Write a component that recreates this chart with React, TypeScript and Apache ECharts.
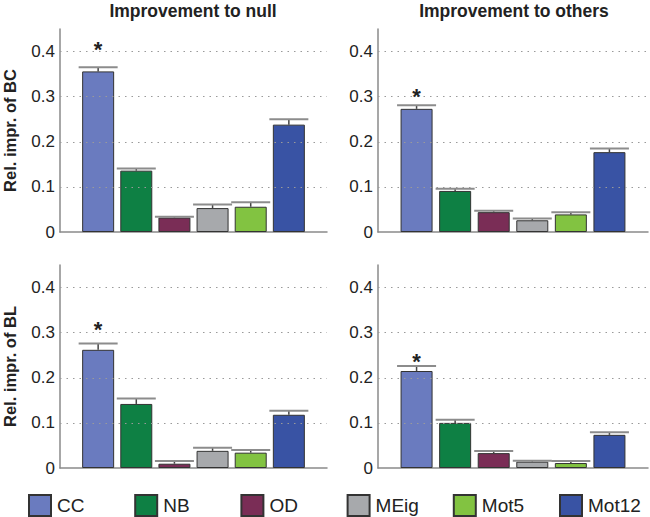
import React, { useEffect, useRef } from "react";
import * as echarts from "echarts";

const categories = ["CC", "NB", "OD", "MEig", "Mot5", "Mot12"];
const colors = ["#6a7bbf", "#0e8044", "#7a2d56", "#a7a9ac", "#82c341", "#3953a4"];

const bcNullMean = [0.356, 0.136, 0.032, 0.053, 0.056, 0.238];
const bcNullUpper = [0.365, 0.141, 0.034, 0.061, 0.066, 0.25];
const bcOthersMean = [0.273, 0.091, 0.044, 0.026, 0.039, 0.177];
const bcOthersUpper = [0.281, 0.096, 0.047, 0.03, 0.044, 0.185];
const blNullMean = [0.262, 0.142, 0.0095, 0.038, 0.034, 0.118];
const blNullUpper = [0.276, 0.154, 0.0155, 0.045, 0.04, 0.127];
const blOthersMean = [0.215, 0.1, 0.033, 0.014, 0.011, 0.0735];
const blOthersUpper = [0.226, 0.107, 0.0375, 0.016, 0.0155, 0.079];
// asterisk (significance) marker height per panel, above CC
const starValue = [0.413, 0.309, 0.316, 0.246];

const columnTitles = ["Improvement to null", "Improvement to others"];
const rowTitles = ["Rel. impr. of BC", "Rel. impr. of BL"];
const gridLines = [0.1, 0.2, 0.3, 0.4];

const FONT = "Liberation Sans, Arial, Helvetica, sans-serif";

export default function App() {
  const ref = useRef<HTMLDivElement>(null);
  useEffect(() => {
    if (!ref.current) return;
    const chart = echarts.init(ref.current, null, { renderer: "svg" });
    const panels = [
      { mean: bcNullMean, upper: bcNullUpper },
      { mean: bcOthersMean, upper: bcOthersUpper },
      { mean: blNullMean, upper: blNullUpper },
      { mean: blOthersMean, upper: blOthersUpper },
    ];
    const grids = [
      { left: 57, top: 29, width: 270, height: 203 },
      { left: 378, top: 29, width: 270, height: 203 },
      { left: 57, top: 265, width: 270, height: 203 },
      { left: 378, top: 265, width: 270, height: 203 },
    ];
    const xAxes = grids.map((_, i) => ({
      type: "value",
      gridIndex: i,
      min: 0,
      max: 7,
      axisLabel: { show: false },
      axisTick: { show: false },
      splitLine: { show: false },
      axisLine: { show: true, lineStyle: { color: "#8a8a8a", width: 1.5 } },
    }));
    const yAxes = grids.map((_, i) => ({
      type: "value",
      gridIndex: i,
      min: 0,
      max: 0.45,
      interval: 0.1,
      name: i % 2 === 0 ? rowTitles[Math.floor(i / 2)] : "",
      nameLocation: "middle",
      nameGap: 42,
      nameTextStyle: { fontFamily: FONT, fontWeight: "bold", fontSize: 16.5, color: "#222" },
      axisLine: { show: true, lineStyle: { color: "#8a8a8a", width: 1.5 } },
      axisTick: { show: false },
      splitLine: { show: false },
      axisLabel: {
        showMaxLabel: false,
        margin: 5,
        fontFamily: FONT,
        fontSize: 17,
        color: "#222",
        formatter: (v: number) => (v > 0.41 ? "" : v === 0 ? "0" : v.toFixed(1)),
      },
    }));
    const series: any[] = [];
    panels.forEach((p, gi) => {
      categories.forEach((c, ci) => {
        series.push({
          type: "bar",
          name: c,
          xAxisIndex: gi,
          yAxisIndex: gi,
          stack: "s" + gi,
          barWidth: 32,
          data: [[ci + 1, p.mean[ci]]],
          itemStyle: { color: colors[ci], borderColor: "#333", borderWidth: 1 },
          silent: true,
        });
      });
      series.push({
        type: "custom",
        name: "err" + gi,
        xAxisIndex: gi,
        yAxisIndex: gi,
        z: 5,
        silent: true,
        encode: { x: 0, y: [1, 2] },
        data: categories.map((_, ci) => [ci + 1, p.mean[ci], p.upper[ci]]),
        renderItem: (params: any, api: any) => {
          const x = api.value(0);
          const m = api.value(1);
          const u = api.value(2);
          const p0 = api.coord([x, m]);
          const p1 = api.coord([x, u]);
          const half = 19.5;
          return {
            type: "group",
            children: [
              { type: "line", shape: { x1: p0[0], y1: p0[1], x2: p1[0], y2: p1[1] }, style: { stroke: "#444", lineWidth: 1.5 } },
              { type: "line", shape: { x1: p1[0] - half, y1: p1[1], x2: p1[0] + half, y2: p1[1] }, style: { stroke: "#8c8c8c", lineWidth: 2 } },
            ],
          };
        },
        markLine: {
          silent: true,
          symbol: "none",
          label: { show: false },
          lineStyle: { type: [1.5, 5], color: "#9a9a9a", width: 1.2 },
          data: gridLines.map((g) => ({ yAxis: g })),
        },
      });
      series.push({
        type: "custom",
        name: "star" + gi,
        xAxisIndex: gi,
        yAxisIndex: gi,
        z: 6,
        silent: true,
        encode: { x: 0, y: 1 },
        data: [[1, starValue[gi]]],
        renderItem: (params: any, api: any) => {
          const pt = api.coord([api.value(0), api.value(1)]);
          return {
            type: "text",
            x: pt[0],
            y: pt[1] + 4,
            style: {
              text: "*",
              textAlign: "center",
              textVerticalAlign: "middle",
              font: "bold 22px " + FONT,
              fill: "#222",
            },
          };
        },
      });
    });
    chart.setOption({
      animation: false,
      backgroundColor: "#fff",
      grid: grids,
      xAxis: xAxes,
      yAxis: yAxes,
      legend: categories.map((c, i) => ({
        data: [c],
        left: 28 + 106.2 * i,
        top: 494,
        orient: "horizontal",
        itemWidth: 22,
        itemHeight: 21,
        itemGap: 0,
        padding: 0,
        icon: "rect",
        selectedMode: false,
        textStyle: { fontFamily: FONT, fontSize: 19, color: "#222", lineHeight: 21, padding: [0, 0, 0, 1] },
      })),
      graphic: columnTitles.map((t, i) => ({
        type: "text",
        x: i === 0 ? 193 : 514,
        y: 11,
        style: {
          text: t,
          textAlign: "center",
          textVerticalAlign: "middle",
          font: "bold 17.5px " + FONT,
          fill: "#222",
        },
      })),
      series,
    });
    return () => chart.dispose();
  }, []);
  return (
    <div
      ref={ref}
      style={{ position: "fixed", left: 0, top: 0, width: 650, height: 517, background: "#fff" }}
    />
  );
}
